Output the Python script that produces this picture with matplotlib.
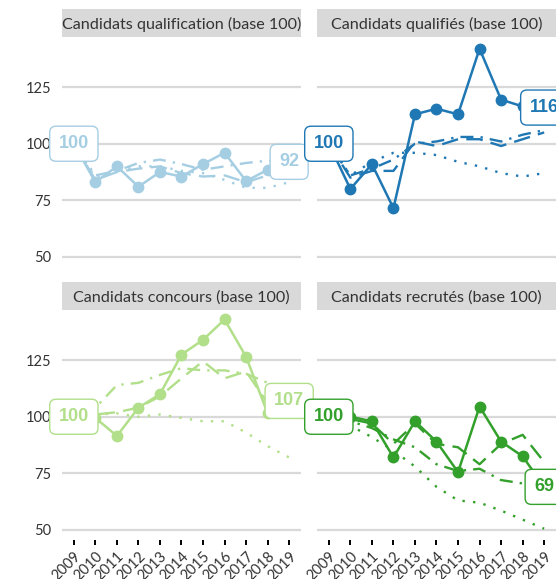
import matplotlib
matplotlib.use("Agg")
import matplotlib.pyplot as plt

plt.rcParams["font.family"] = ["Lato", "DejaVu Sans"]

years = list(range(2009, 2020))
year_labels = [str(y) for y in years]
y_ticks = [50, 75, 100, 125]

# Candidats qualification
qual_main = [100, 83, 90, 81, 87.5, 85.5, 91, 96, 83.5, 88.5, 92]
qual_dash = [100, 84, 87.5, 89, 90, 87, 85.5, 86, 83, 86, 88]
qual_dotdash = [100, 86, 88, 91.5, 93, 91, 88.5, 90, 91.5, 92.5, 92.5]
qual_dot = [100, 85, 88, 90, 90, 88, 87, 84, 80.5, 80.5, 83]

# Candidats qualifiés
qlf_main = [100, 80, 91, 71.5, 113, 115.5, 113, 142, 119.5, 116.5, 116]
qlf_dash = [100, 85, 88, 88, 101, 99, 102, 102, 99, 102, 105]
qlf_dotdash = [100, 86, 89, 93, 100, 101, 103, 103, 101, 104, 106]
qlf_dot = [100, 86, 92, 96, 96, 95, 92, 90, 87, 85.5, 87]

# Candidats concours
conc_main = [100, 99.5, 91.5, 104, 110, 127.5, 134, 143, 126.5, 101.5, 107]
conc_dash = [100, 101, 102, 104, 109, 117, 124.5, 117, 120, 106, 107]
conc_dotdash = [100, 104, 114, 115, 118.5, 121.5, 120.5, 120.5, 119, 115, 113]
conc_dot = [100, 101, 101.5, 100, 101, 99.5, 98, 98, 93, 87, 82]

# Candidats recrutés
rec_main = [100, 100, 98, 82, 98, 89, 75.5, 104.5, 89, 82.5, 69]
rec_dash = [100, 99, 97, 88, 97, 88, 86.5, 79, 88, 92, 80]
rec_dotdash = [100, 98, 95, 90, 86.5, 79, 76, 77, 72, 70.5, 70]
rec_dot = [100, 96, 91, 85, 78, 69, 63, 62, 58.5, 54.5, 50.5]

titles = ["Candidats qualification (base 100)", "Candidats qualifiés (base 100)",
          "Candidats concours (base 100)", "Candidats recrutés (base 100)"]
colors = ["#a6cee3", "#1f78b4", "#b2df8a", "#33a02c"]

W, H = 556, 579
fig = plt.figure(figsize=(W / 100, H / 100), dpi=100)

# panel boxes in pixels: left, right, top, bottom
cols = [(62, 301), (317, 556)]
rows = [(37, 267), (310, 540)]
STRIP_H = 28


def px_rect(x0, x1, y0, y1):
    return [x0 / W, (H - y1) / H, (x1 - x0) / W, (y1 - y0) / H]


def draw_panel(ax, main, dash, dotdash, dot, color):
    ax.set_xlim(2008.45, 2019.55)
    ax.set_ylim(45.5, 147.2)
    ax.set_yticks(y_ticks)
    ax.grid(axis="y", color="#d9d9d9", lw=1.6, zorder=0)
    ax.set_axisbelow(True)
    for s in ax.spines.values():
        s.set_visible(False)

    ax.plot(years, dash, color=color, lw=1.7, ls=(0, (7, 3.5)), zorder=2)
    ax.plot(years, dotdash, color=color, lw=1.7, ls=(0, (1, 3, 5.5, 3)), zorder=2)
    ax.plot(years, dot, color=color, lw=1.7, ls=(0, (1, 3.5)), zorder=2)
    ax.plot(years, main, color=color, lw=1.8, marker="o", ms=7.5, zorder=3)

    # first and last values in rounded boxes
    for x, v in [(years[0], main[0]), (years[-1], main[-1])]:
        ax.annotate(f"{v:.0f}", (x, v), ha="center", va="center",
                    color=color, fontsize=13, fontweight="bold",
                    family="Liberation Sans", annotation_clip=False, zorder=5,
                    bbox=dict(boxstyle="round,pad=0.5,rounding_size=0.35",
                              fc="white", ec=color, lw=1.0))


data = [(qual_main, qual_dash, qual_dotdash, qual_dot),
        (qlf_main, qlf_dash, qlf_dotdash, qlf_dot),
        (conc_main, conc_dash, conc_dotdash, conc_dot),
        (rec_main, rec_dash, rec_dotdash, rec_dot)]

for i in range(4):
    r, c = divmod(i, 2)
    x0, x1 = cols[c]
    y0, y1 = rows[r]
    ax = fig.add_axes(px_rect(x0, x1, y0, y1))
    draw_panel(ax, *data[i], colors[i])

    ax.tick_params(axis="y", length=0, pad=8, labelsize=10.5, labelcolor="#333333")
    if c == 1:
        ax.tick_params(axis="y", labelleft=False)
    ax.set_xticks(years)
    if r == 1:
        ax.set_xticklabels(year_labels, rotation=45, ha="right", va="top",
                           rotation_mode="anchor")
        ax.tick_params(axis="x", length=3.6, width=1.4, color="black", pad=3,
                       labelsize=10.5, labelcolor="#333333")
    else:
        ax.tick_params(axis="x", length=0, labelbottom=False)

    # facet strip
    sax = fig.add_axes(px_rect(x0, x1, y0 - STRIP_H, y0))
    sax.set_facecolor("#d9d9d9")
    sax.set_xticks([])
    sax.set_yticks([])
    for s in sax.spines.values():
        s.set_visible(False)
    sax.text(0.5, 0.45, titles[i], ha="center", va="center", fontsize=11.6,
             color="#333333", transform=sax.transAxes)

fig.savefig("out.png", dpi=100)
